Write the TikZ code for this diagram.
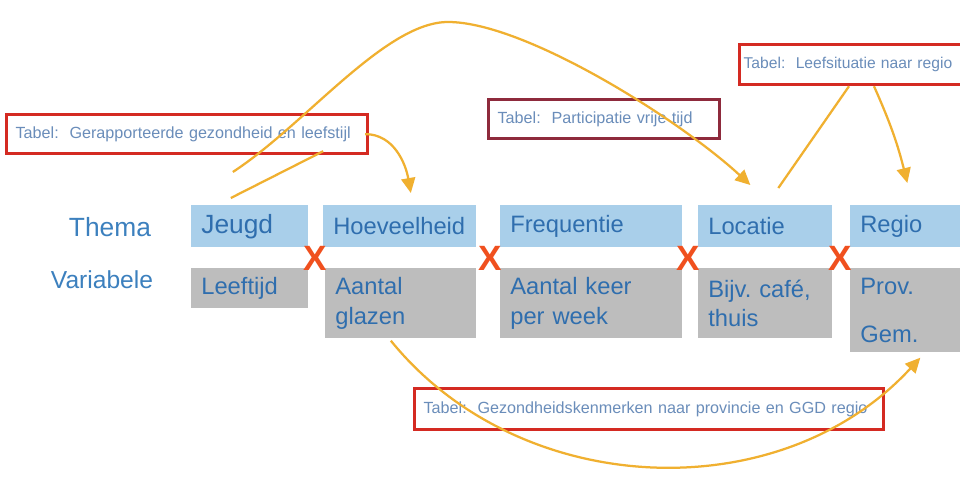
\documentclass[tikz,border=0pt]{standalone}
\usepackage{fontspec}
\setmainfont{Liberation Sans}
\usetikzlibrary{arrows.meta,calc}
\definecolor{themafill}{HTML}{A9CFEA}
\definecolor{varfill}{HTML}{BDBDBD}
\definecolor{celltext}{HTML}{2F6EAE}
\definecolor{rowtext}{HTML}{3C80BE}
\definecolor{tabtext}{HTML}{6A8DBA}
\definecolor{boxred}{HTML}{D42A22}
\definecolor{boxdark}{HTML}{8E2A3C}
\definecolor{crossred}{HTML}{F0501E}
\definecolor{arrgold}{HTML}{F0B030}
\frenchspacing
\tikzset{
  cell/.style={anchor=north west,inner xsep=0.2cm,inner ysep=0pt,align=left,
    font=\fontsize{13.5}{17}\selectfont,text=celltext},
  thema/.style={cell,fill=themafill,minimum height=0.84cm},
  var/.style={cell,fill=varfill},
  rowlab/.style={text=rowtext,font=\fontsize{14}{14}\selectfont},
  cross/.style={text=crossred,font=\bfseries\fontsize{20}{20}\selectfont,inner sep=0pt},
  tabel/.style={draw=boxred,line width=0.065cm,fill=white,anchor=north west,
    inner xsep=0.18cm,align=left,minimum height=0.78cm,
    font=\fontsize{9.2}{9.2}\selectfont,text=tabtext},
  link/.style={draw=arrgold,line width=0.045cm},
  arr/.style={link,-{Triangle[length=0.3cm,width=0.28cm]}}
}
\begin{document}
\begin{tikzpicture}[x=0.02cm,y=-0.02cm]
\useasboundingbox[fill=white] (0,0) rectangle (960,479);
% row labels
\node[rowlab,font=\fontsize{15}{15}\selectfont] (thema) at (110,227) {Thema};
\node[rowlab] (variabele) at (102,280) {Variabele};
% thema row
\node[thema,text width=1.94cm,font=\fontsize{15}{17}\selectfont] (jeugd) at (191,205) {Jeugd};
\node[thema,text width=2.66cm] (hoeveel) at (323,205) {Hoeveelheid};
\node[thema,text width=3.24cm] (freq) at (500,205) {Frequentie};
\node[thema,text width=2.28cm] (locatie) at (698,205) {Locatie};
\node[thema,text width=1.8cm] (regio) at (850,205) {Regio};
% variabele row
\node[var,text width=1.94cm,minimum height=0.8cm] (leeftijd) at (191,268) {Leeftijd};
\node[var,text width=2.62cm,minimum height=1.4cm] (glazen) at (325,268) {Aantal\\glazen};
\node[var,text width=3.24cm,minimum height=1.4cm] (keer) at (500,268) {Aantal keer\\per week};
\node[var,text width=2.28cm,minimum height=1.4cm] (cafe) at (698,268) {Bijv. café,\\thuis};
\node[var,text width=1.8cm,minimum height=1.68cm] (prov) at (850,268) {Prov.\\[10pt]Gem.};
% crosses
\foreach \n/\x in {x1/315,x2/490,x3/688,x4/840}
  \node[cross] (\n) at (\x,258) {X};
% tables
\node[tabel,text width=6.86cm] (tab1) at (5,113) {Tabel:\ \ Gerapporteerde gezondheid en leefstijl};
\node[tabel,draw=boxdark,text width=4.26cm] (tab2) at (487,98) {Tabel:\ \ Participatie vrije tijd};
\node[tabel,inner xsep=0.08cm,text width=4.8cm,minimum height=0.8cm,font=\fontsize{8.9}{8.9}\selectfont] (tab3) at (738,43) {Tabel:\ \ Leefsituatie naar regio};
\node[tabel,text width=9.02cm,minimum height=0.82cm] (tab4) at (413,387) {Tabel:\ \ Gezondheidskenmerken naar provincie en GGD regio};
% connectors
\draw[arr] ($(jeugd.north)+(-17,-33)$) .. controls (305,125) and (385,22) .. (448,22)
  .. controls (525,22) and (680,120) .. ($(locatie.north)+(-15,-20)$);
\draw[link] ($(jeugd.north)+(-19,-7)$) -- ($(tab1.south east)+(-46,-4)$);
\draw[arr] ($(tab1.east)+(-4,0)$) to[out=0,in=100] ($(hoeveel.north)+(11,-12)$);
\draw[link] ($(tab3.south west)+(111,0)$) -- ($(locatie.north)+(13,-17)$);
\draw[arr] ($(tab3.south west)+(136,0)$) to[bend left=5] ($(regio.north)+(2,-22)$);
\draw[arr] ($(glazen.south)+(-10,2)$) .. controls (520,500) and (780,510) .. ($(prov.south)+(15,5)$);
\end{tikzpicture}
\end{document}
